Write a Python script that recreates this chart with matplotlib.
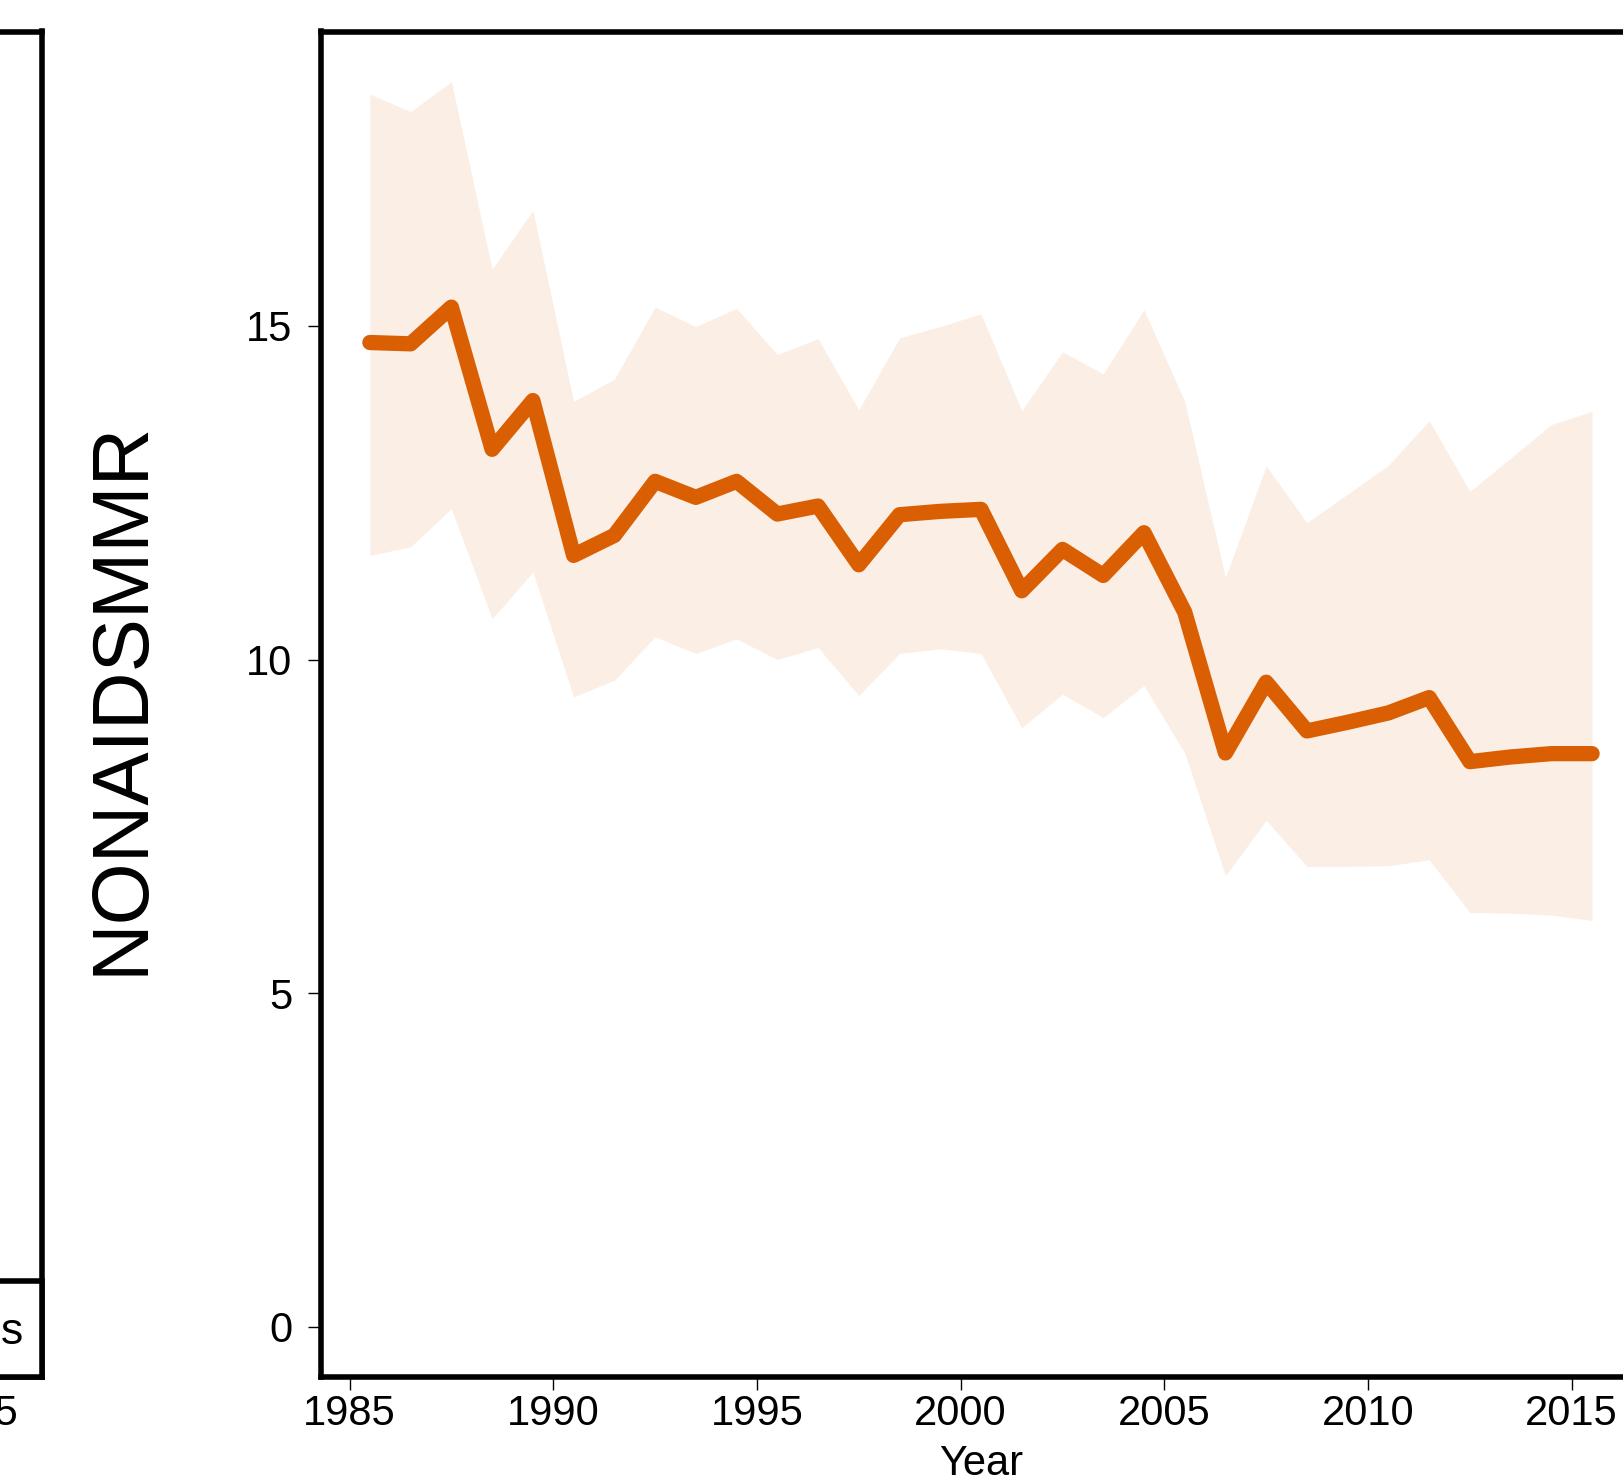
import matplotlib
matplotlib.use("Agg")
import matplotlib.pyplot as plt
from matplotlib.lines import Line2D
import numpy as np

plt.rcParams['font.family'] = ['Liberation Sans', 'DejaVu Sans']

# NONAIDSMMR estimate with its uncertainty band, one value per year (mid-year)
years = np.arange(1985.5, 2016.0, 1.0)
mmr = [14.75, 14.73, 15.28, 13.15, 13.88, 11.56, 11.86, 12.67, 12.43, 12.67,
       12.18, 12.30, 11.42, 12.17, 12.22, 12.25, 11.03, 11.65, 11.26, 11.90,
       10.71, 8.60, 9.66, 8.93, 9.06, 9.20, 9.43, 8.47, 8.54, 8.59, 8.59]
upper = [18.47, 18.21, 18.66, 15.85, 16.73, 13.87, 14.20, 15.28, 14.99, 15.26,
         14.57, 14.81, 13.74, 14.82, 14.99, 15.18, 13.73, 14.61, 14.28, 15.24,
         13.87, 11.23, 12.90, 12.05, 12.48, 12.91, 13.58, 12.52, 13.02, 13.52, 13.72]
lower = [11.56, 11.69, 12.26, 10.61, 11.31, 9.44, 9.69, 10.34, 10.09, 10.31,
         10.00, 10.18, 9.46, 10.09, 10.16, 10.09, 8.98, 9.48, 9.13, 9.61,
         8.60, 6.76, 7.59, 6.90, 6.90, 6.91, 7.00, 6.21, 6.20, 6.17, 6.09]
xticks = [1985, 1990, 1995, 2000, 2005, 2010, 2015]
yticks = [0, 5, 10, 15]

orange = '#D95F02'
W, H = 1623, 1484
fig = plt.figure(figsize=(W / 100, H / 100), dpi=100)

# axes positions in pixels of the full figure (main panel runs past the right edge)
ax_w = 1320
ax = fig.add_axes([321 / W, 1 - 1377 / H, ax_w / W, (1377 - 31.5) / H])
ax_left = fig.add_axes([(42 - ax_w) / W, 1 - 1377 / H, ax_w / W, (1377 - 31.5) / H])

xlim = (1984.3, 2016.7)
ylim = (-0.75, 19.41)

for a in (ax, ax_left):
    a.set_xlim(*xlim)
    a.set_ylim(*ylim)
    a.set_xticks(xticks)
    a.set_yticks(yticks)
    for s in a.spines.values():
        s.set_linewidth(4)
    a.tick_params(axis='both', length=9.5, width=1.0, labelsize=30)
    a.tick_params(axis='x', pad=3)
    a.tick_params(axis='y', pad=11)

ax.fill_between(years, lower, upper, color=orange, alpha=0.1, linewidth=0)
ax.plot(years, mmr, color=orange, linewidth=11, solid_capstyle='round',
        solid_joinstyle='round')

fig.text(121.5 / W, 1 - 698 / H, 'NONAIDSMMR', rotation=90, fontsize=57.5,
         ha='center', va='center')
fig.text(981.5 / W, 1 - 1475 / H, 'Year', fontsize=30, ha='center', va='baseline')

# legend of the left panel, only its right end is inside the picture
handles = [Line2D([], [], color=orange, linewidth=10)]
leg = ax_left.legend(handles, ['Estimates'], loc='lower right', fontsize=32,
                     borderaxespad=0, borderpad=0.42, handleheight=1.65,
                     fancybox=False, edgecolor='black', framealpha=1)
leg.get_frame().set_linewidth(4)

fig.savefig('out.png', dpi=100)
